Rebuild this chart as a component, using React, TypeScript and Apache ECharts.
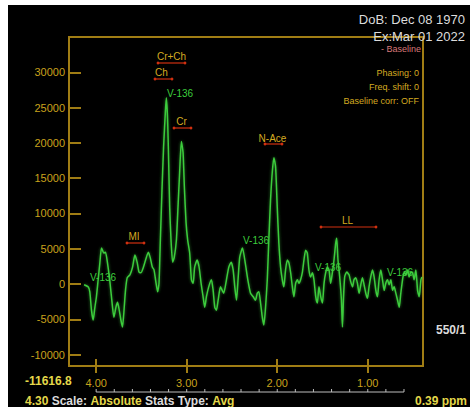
import React, { useEffect, useRef } from 'react';
import * as echarts from 'echarts';

const ppm = [
  4.133, 4.089, 4.070, 4.052, 4.033, 4.014, 3.997, 3.978, 3.959, 3.941,
  3.915, 3.897, 3.875, 3.848, 3.831, 3.804, 3.782, 3.764, 3.745, 3.727,
  3.709, 3.690, 3.676, 3.657, 3.627, 3.598, 3.572, 3.546, 3.527, 3.505,
  3.480, 3.454, 3.424, 3.402, 3.380, 3.361, 3.344, 3.321, 3.306, 3.291,
  3.273, 3.255, 3.236, 3.225, 3.211, 3.199, 3.188, 3.173, 3.155, 3.137,
  3.114, 3.096, 3.078, 3.059, 3.040, 3.026, 3.007, 2.989, 2.967, 2.948,
  2.929, 2.912, 2.885, 2.863, 2.841, 2.819, 2.801, 2.782, 2.757, 2.727,
  2.708, 2.690, 2.672, 2.653, 2.627, 2.608, 2.591, 2.561, 2.535, 2.509,
  2.487, 2.469, 2.450, 2.431, 2.414, 2.384, 2.350, 2.325, 2.295, 2.265,
  2.240, 2.221, 2.203, 2.184, 2.165, 2.148, 2.129, 2.110, 2.093, 2.074,
  2.055, 2.037, 2.018, 2.000, 1.982, 1.963, 1.944, 1.927, 1.908, 1.889,
  1.871, 1.852, 1.833, 1.816, 1.797, 1.778, 1.760, 1.742, 1.723, 1.705,
  1.686, 1.668, 1.650, 1.631, 1.612, 1.594, 1.575, 1.557, 1.539, 1.520,
  1.501, 1.483, 1.465, 1.446, 1.428, 1.410, 1.391, 1.373, 1.354, 1.343,
  1.329, 1.310, 1.291, 1.280, 1.269, 1.255, 1.232, 1.207, 1.188, 1.169,
  1.152, 1.133, 1.114, 1.096, 1.077, 1.059, 1.041, 1.022, 1.003, 0.986,
  0.967, 0.948, 0.930, 0.911, 0.893, 0.875, 0.856, 0.837, 0.819, 0.801,
  0.782, 0.764, 0.745, 0.726, 0.709, 0.690, 0.671, 0.653, 0.635, 0.616,
  0.598, 0.579, 0.561, 0.543, 0.524, 0.505, 0.488, 0.469, 0.450, 0.432,
  0.413, 0.402,
];

const intensity = [
  -100, -400, -1100, -3700, -5100, -3300, -1800, 600, 3000, 5100,
  4400, 4500, 3000, 300, -1800, -4700, -3300, -2600, -3700, -5100,
  -6100, -3300, -900, 900, 1300, 2400, 4100, 3000, 1700, 1600,
  2300, 3400, 4500, 3700, 2400, 2000, 600, -1100, 100, 6200,
  13300, 19500, 24300, 26400, 23300, 17200, 10900, 6200, 3100, 3800,
  6200, 10900, 15800, 20200, 18600, 13800, 8700, 6200, 4400, 600,
  100, 2400, 3400, 2400, 100, -1800, -3300, -1800, -400, 600,
  -900, -3300, -3700, -2300, -400, -900, -1300, 600, 2400, 3100,
  2000, -400, -2300, 1000, 3800, 5100, 2700, 600, -1300, -1800,
  -2300, -1300, -1100, -2700, -4700, -5800, -3300, 600, 6200, 11900,
  15800, 17900, 16600, 10900, 5800, 2400, 600, -400, 2000, 3400,
  3000, 1600, -400, -1800, 100, 600, 100, 600, 1600, 3400,
  4800, 4400, 2000, 1000, 1600, 600, -1800, -2700, -400, -1800,
  -2700, 100, 1600, 2400, 2000, 100, 1600, 3400, 5800, 6500,
  3400, 1000, -2300, -6100, -2300, 1000, 1700, 1300, 300, -400,
  600, 900, 100, -1300, -100, 900, -100, -1300, -2000, -400,
  1000, 2000, 1000, -900, -1800, 600, 2000, 600, -900, 100,
  600, -100, 600, -900, -400, -1300, -2300, -3300, -1300, 600,
  1700, 1300, 2000, 1000, 1700, 1600, 600, 2000, -900, -1800,
  600, 1000,
];

const xTickValues = [1, 2, 3, 4];
const yTickValues = [-10000, -5000, 0, 5000, 10000, 15000, 20000, 25000, 30000];
const rulerTicks = [4.0, 3.8, 3.6, 3.4, 3.2, 3.0, 2.8, 2.6, 2.4, 2.2, 2.0, 1.8, 1.6, 1.4, 1.2, 1.0, 0.8, 0.6];
const X_MIN = 0.39;
const X_MAX = 4.30;
const Y_MIN = -11616.8;
const Y_MAX = 35000;

const AXIS = '#a07d14';
const TICKLBL = '#c9a21c';
const ANNOT = '#d4aa20';
const RED = '#d03010';
const GREEN = '#3ccc3c';
const GRAY = '#dcdcdc';
const YEL = '#e4d84a';
const FONT = 'Liberation Sans, Arial, sans-serif';

function peakTag(text: string, cx: number, ty: number, x1: number, x2: number, ly: number) {
  return [
    { type: 'text', x: cx, y: ty, z: 10, style: { text, fill: ANNOT, font: `10px ${FONT}`, textAlign: 'center', textVerticalAlign: 'middle' } },
    { type: 'line', z: 10, shape: { x1, y1: ly, x2, y2: ly }, style: { stroke: RED, lineWidth: 1.2 } },
    { type: 'circle', z: 10, shape: { cx: x1, cy: ly, r: 1.4 }, style: { fill: RED } },
    { type: 'circle', z: 10, shape: { cx: x2, cy: ly, r: 1.4 }, style: { fill: RED } },
  ];
}

function vLabel(x: number, y: number) {
  return { type: 'text', x, y, z: 10, style: { text: 'V-136', fill: GREEN, font: `10px ${FONT}`, textAlign: 'left', textVerticalAlign: 'middle' } };
}

function rText(text: string, x: number, y: number, fill: string, size: number, align = 'right', weight = 'normal') {
  return { type: 'text', x, y, z: 10, style: { text, fill, font: `${weight} ${size}px ${FONT}`, textAlign: align, textVerticalAlign: 'middle' } };
}

export default function App() {
  const ref = useRef<HTMLDivElement>(null);
  useEffect(() => {
    if (!ref.current) return;
    const chart = echarts.init(ref.current, null, { renderer: 'svg' });
    const data = ppm.map((p, i) => [p, intensity[i]]);
    const xCommon = {
      type: 'value', min: X_MIN, max: X_MAX, inverse: true, position: 'bottom',
      splitLine: { show: false },
    };
    chart.setOption({
      animation: false,
      backgroundColor: '#000',
      grid: { left: 61, right: 47, top: 32, bottom: 41, show: true, borderColor: AXIS, borderWidth: 2, backgroundColor: 'transparent' },
      xAxis: [
        {
          ...xCommon,
          axisLine: { show: true, onZero: false, lineStyle: { color: AXIS, width: 2 } },
          axisTick: { show: true, inside: true, length: 7, customValues: xTickValues, lineStyle: { color: AXIS, width: 2 } },
          axisLabel: { show: true, customValues: xTickValues, color: TICKLBL, fontSize: 11, fontFamily: FONT, margin: 11, formatter: (v: number) => v.toFixed(2) },
        },
        {
          ...xCommon,
          axisLine: { show: false, onZero: false },
          axisTick: { show: true, inside: false, length: 7, customValues: xTickValues, lineStyle: { color: AXIS, width: 2 } },
          axisLabel: { show: false },
        },
      ],
      yAxis: {
        type: 'value', min: Y_MIN, max: Y_MAX,
        splitLine: { show: false },
        axisLine: { show: true, onZero: false, lineStyle: { color: AXIS, width: 2 } },
        axisTick: { show: true, inside: true, length: 12, customValues: yTickValues, lineStyle: { color: AXIS, width: 2 } },
        axisLabel: { show: true, customValues: yTickValues, color: TICKLBL, fontSize: 11, fontFamily: FONT, margin: 4, formatter: (v: number) => String(v) },
      },
      series: [
        {
          type: 'line', data, xAxisIndex: 0, showSymbol: false, smooth: 0.2,
          lineStyle: { color: GREEN, width: 1.5, shadowColor: 'rgba(60,204,60,0.6)', shadowBlur: 3 },
        },
      ],
    });

    const px = (v: number) => chart.convertToPixel({ xAxisIndex: 0 }, v) as number;
    const rulerY = 387;
    const ruler: any[] = [
      { type: 'line', z: 10, shape: { x1: px(4.0), y1: rulerY, x2: px(0.6), y2: rulerY }, style: { stroke: '#bdbdbd', lineWidth: 1 } },
      ...rulerTicks.map((t) => ({ type: 'line', z: 10, shape: { x1: px(t), y1: rulerY, x2: px(t), y2: rulerY - 3 }, style: { stroke: '#bdbdbd', lineWidth: 1 } })),
    ];

    chart.setOption({
      graphic: [
        rText('DoB: Dec 08 1970', 457, 14, GRAY, 13),
        rText('Ex:Mar 01 2022', 457, 31, GRAY, 13),
        rText('- Baseline', 413, 44, '#d87878', 9),
        rText('Phasing: 0', 411, 68, ANNOT, 9),
        rText('Freq. shift: 0', 411, 82, ANNOT, 9),
        rText('Baseline corr: OFF', 411, 96, ANNOT, 9),
        ...peakTag('Cr+Ch', 163.5, 51, 150, 177, 58),
        ...peakTag('Ch', 153.5, 67, 147, 164, 74),
        ...peakTag('Cr', 173.5, 116, 166, 183, 123),
        ...peakTag('N-Ace', 264.5, 133, 257, 274, 139),
        ...peakTag('MI', 126, 231, 119, 136, 238),
        ...peakTag('LL', 339.5, 215, 313, 368, 222),
        vLabel(159, 88),
        vLabel(82, 272),
        vLabel(235, 235),
        vLabel(307, 262),
        vLabel(379, 267),
        rText('550/1', 458, 325, GRAY, 12, 'right', 'bold'),
        rText('-11616.8', 17, 376, YEL, 12, 'left', 'bold'),
        {
          type: 'text', x: 17, y: 396, z: 10,
          style: {
            text: '{y|4.30} {g|Scale:} {y|Absolute} {g|Stats Type:} {y|Avg}',
            textVerticalAlign: 'middle',
            rich: {
              y: { fill: YEL, font: `bold 12px ${FONT}` },
              g: { fill: GRAY, font: `bold 12px ${FONT}` },
            },
          },
        },
        rText('0.39 ppm', 459, 396, YEL, 12, 'right', 'bold'),
        ...ruler,
      ],
    });
    return () => chart.dispose();
  }, []);
  return <div ref={ref} style={{ position: 'absolute', left: 8, top: 5, width: 462, height: 402, background: '#000' }} />;
}
